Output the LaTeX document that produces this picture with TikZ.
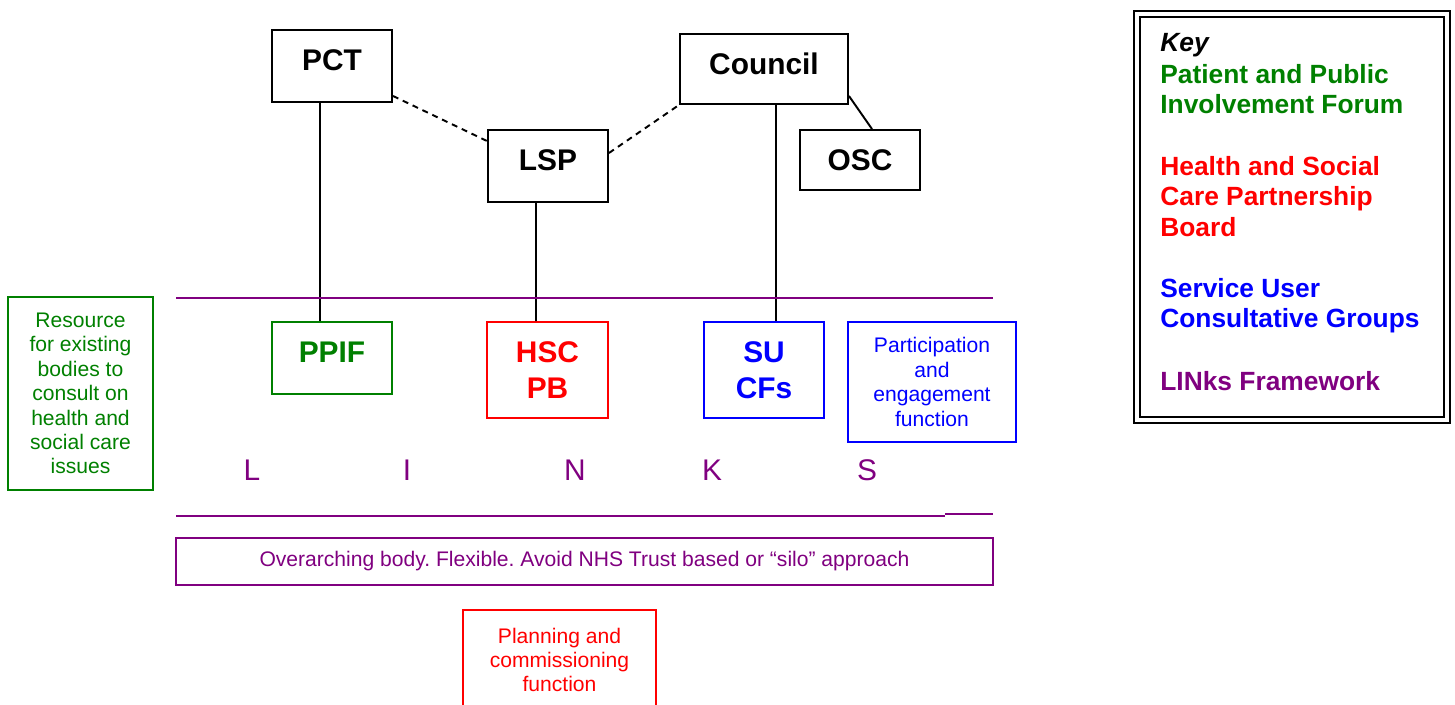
\documentclass[tikz,border=0pt]{standalone}
\usepackage{fontspec}
\setmainfont{Liberation Sans}
\usepackage{xcolor}
\usetikzlibrary{positioning, calc}

\definecolor{ppigreen}{RGB}{0,128,0}
\definecolor{hscred}{RGB}{255,0,0}
\definecolor{sublue}{RGB}{0,0,255}
\definecolor{linkspurple}{RGB}{128,0,128}

\tikzset{
  orgbox/.style={draw, line width=1.1pt, inner sep=0pt, align=center, font=\bfseries\fontsize{17}{20.4}\selectfont},
  raised/.style={text depth=0.22cm},
  notebox/.style={draw, line width=1.1pt, inner sep=0pt, align=center, font=\fontsize{12}{13.9}\selectfont},
  letter/.style={text=linkspurple, font=\fontsize{17}{20}\selectfont},
  keytext/.style={anchor=north west, inner sep=0pt, align=left, font=\bfseries\fontsize{15}{17.3}\selectfont},
  link/.style={line width=1.1pt},
}

\begin{document}
\frenchspacing
\begin{tikzpicture}[x=0.02cm, y=-0.02cm]
\clip (0,0) rectangle (1455,705);

% Top level bodies
\node[orgbox, raised, minimum width=2.4cm, minimum height=1.44cm] (pct) at (332,66) {PCT};
\node[orgbox, raised, minimum width=3.36cm, minimum height=1.4cm] (council) at (764,69) {Council};
\node[orgbox, raised, minimum width=2.4cm, minimum height=1.44cm] (lsp) at (548,166) {LSP};
\node[orgbox, minimum width=2.4cm, minimum height=1.2cm] (osc) at (860,160) {OSC};

% Links between the top level bodies
\draw[link, dashed, dash pattern=on 3.4pt off 2.8pt] ([yshift=0.14cm]pct.south east) -- ([yshift=-0.24cm]lsp.north west);
\draw[link, dashed, dash pattern=on 3.4pt off 2.8pt] ([yshift=0.26cm]lsp.east) -- (council.south west);
\draw[link] ([yshift=0.18cm]council.south east) -- ([xshift=0.24cm]osc.north);

% Bodies inside the LINKs framework
\node[orgbox, raised, draw=ppigreen, text=ppigreen, minimum width=2.4cm, minimum height=1.44cm] (ppif) at (332,358) {PPIF};
\node[orgbox, draw=hscred, text=hscred, minimum width=2.42cm, minimum height=1.92cm] (hscpb) at (547.5,370) {HSC\\PB};
\node[orgbox, draw=sublue, text=sublue, minimum width=2.4cm, minimum height=1.92cm] (sucf) at (764,370) {SU\\CFs};
\node[notebox, draw=sublue, text=sublue, minimum width=3.36cm, minimum height=2.4cm] (partic) at (932,382) {Participation\\and\\engagement\\function};

% Vertical connectors
\draw[link] ([xshift=-0.24cm]pct.south) -- ([xshift=-0.24cm]ppif.north);
\draw[link] ([xshift=-0.24cm]lsp.south) -- ([xshift=-0.23cm]hscpb.north);
\draw[link] ([xshift=0.24cm]council.south) -- ([xshift=0.24cm]sucf.north);

% LINKs framework band
\draw[link, linkspurple] (176,298) -- (993,298);
\draw[link, linkspurple] (176,516) -- (945,516);
\draw[link, linkspurple] (945,514) -- (993,514);
\foreach \ch/\x in {L/252, I/407, N/575, K/712, S/867}
  \node[letter] (link\ch) at (\x,470) {\ch};

% Side and bottom notes
\node[notebox, draw=ppigreen, text=ppigreen, minimum width=2.9cm, minimum height=3.86cm] (resource) at (80.5,393.5)
  {Resource\\for existing\\bodies to\\consult on\\health and\\social care\\issues};
\node[notebox, draw=linkspurple, text=linkspurple, minimum width=16.34cm, minimum height=0.94cm] (overarch) at (584.5,561.5)
  {Overarching body. Flexible. Avoid NHS Trust based or “silo” approach};
\node[notebox, draw=hscred, text=hscred, minimum width=3.86cm, minimum height=2cm] (planning) at (559.5,660)
  {Planning and\\commissioning\\function};

% Key
\draw[line width=1.2pt] (1134,11) rectangle (1450,423);
\draw[line width=1.5pt] (1140,17) rectangle (1444,417);
\node[keytext, font=\bfseries\itshape\fontsize{15}{17.3}\selectfont] (keytitle) at (1160,33) {Key};
\node[keytext, text=ppigreen] (keyppif) at (1160,64) {Patient and Public\\Involvement Forum};
\node[keytext, text=hscred] (keyhsc) at (1160,156) {Health and Social\\Care Partnership\\Board};
\node[keytext, text=sublue] (keysu) at (1160,278) {Service User\\Consultative Groups};
\node[keytext, text=linkspurple] (keylinks) at (1160,371) {LINks Framework};
\end{tikzpicture}
\end{document}
